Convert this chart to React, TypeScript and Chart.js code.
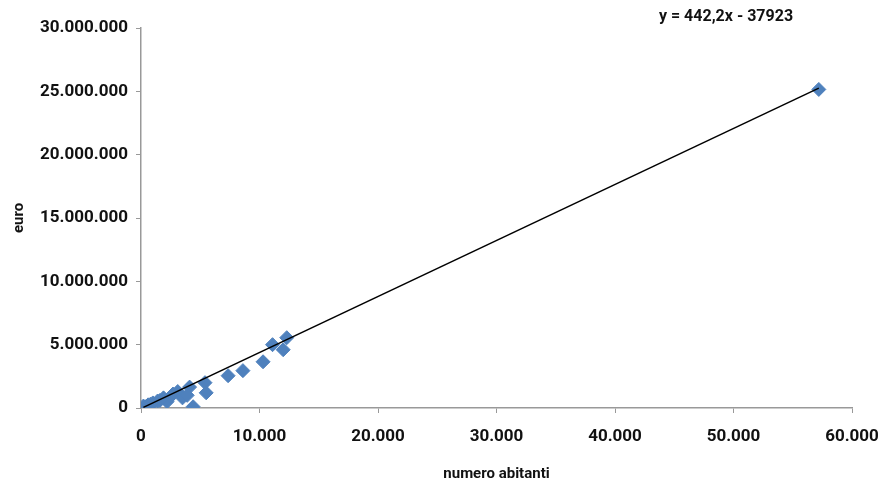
import React, { useEffect, useRef } from "react";
import { Chart, registerables } from "chart.js";

Chart.register(...registerables);

// inhabitants (x) vs. value (y)
const abitanti: number[] = [
  57200, 12300, 11100, 12000, 10300, 8600, 7350, 5400, 5500, 4400, 4100, 3100,
  3500, 2700, 1900, 2200, 1000, 1400, 350, 600, 200, 800, 1600, 2500, 3900,
];
const valori: number[] = [
  25150000, 5550000, 5000000, 4600000, 3650000, 2950000, 2550000, 2000000,
  1200000, 100000, 1650000, 1300000, 800000, 1100000, 800000, 500000, 400000,
  550000, 100000, 250000, 150000, 300000, 600000, 900000, 1000000,
];
const trendSlope = 442.2;
const trendIntercept = -37923;
const trendLabel = "y = 442,2x - 37923";
const xTitle = "numero abitanti";
const yTitle = "euro";

const FONT = "Roboto, 'Liberation Sans', sans-serif";

const fmt = (v: number) =>
  Math.round(v)
    .toString()
    .replace(/\B(?=(\d{3})+(?!\d))/g, ".");

export default function App() {
  const ref = useRef<HTMLCanvasElement | null>(null);
  useEffect(() => {
    document.body.style.margin = "0";
    const xs = abitanti;
    const xMin = Math.min(...xs);
    const xMax = Math.max(...xs);
    const trend = [xMin, xMax].map((x) => ({ x, y: trendSlope * x + trendIntercept }));
    const points = xs.map((x, i) => ({ x, y: valori[i] }));

    const labelPlugin = {
      id: "eqLabel",
      afterDraw(chart: any) {
        const ctx = chart.ctx;
        ctx.save();
        ctx.font = `bold 16px ${FONT}`;
        ctx.fillStyle = "#111";
        ctx.textAlign = "center";
        ctx.textBaseline = "middle";
        ctx.fillText(trendLabel, 726, 17);
        ctx.restore();
      },
    };

    const chart = new Chart(ref.current!, {
      type: "scatter",
      data: {
        datasets: [
          {
            type: "line",
            data: trend,
            borderColor: "#000",
            borderWidth: 1.5,
            pointRadius: 0,
            fill: false,
          } as any,
          {
            data: points,
            backgroundColor: "#4F81BD",
            borderColor: "#4F81BD",
            pointStyle: "rectRot",
            pointRadius: 7,
          },
        ],
      },
      options: {
        animation: false,
        responsive: false,
        layout: { padding: { top: 28, right: 0, left: 0, bottom: 0 } },
        plugins: { legend: { display: false }, tooltip: { enabled: false } },
        scales: {
          x: {
            type: "linear",
            min: 0,
            max: 60000,
            ticks: {
              stepSize: 10000,
              color: "#111",
              font: { family: FONT, size: 17, weight: "bold" },
              padding: 14,
              callback: (v: any) => fmt(Number(v)),
            },
            grid: { drawOnChartArea: false, drawTicks: true, tickLength: 5, color: "#999" },
            border: { color: "#999", width: 1.5 },
            title: {
              display: true,
              text: xTitle,
              color: "#111",
              font: { family: FONT, size: 15, weight: "bold" },
              padding: { top: 6 },
            },
            afterFit: (s: any) => {
              s.height = 79;
              s.paddingRight = 28;
              s.paddingLeft = 0;
            },
          },
          y: {
            type: "linear",
            min: 0,
            max: 30000000,
            ticks: {
              stepSize: 5000000,
              color: "#111",
              font: { family: FONT, size: 17, weight: "bold" },
              padding: 8,
              callback: (v: any) => fmt(Number(v)),
            },
            grid: { drawOnChartArea: false, drawTicks: true, tickLength: 5, color: "#999" },
            border: { color: "#999", width: 1.5 },
            title: {
              display: true,
              text: yTitle,
              color: "#111",
              font: { family: FONT, size: 15, weight: "bold" },
              padding: { bottom: 0, top: 10 },
            },
            afterFit: (s: any) => {
              s.width = 141;
            },
          },
        },
      },
      plugins: [labelPlugin],
    } as any);
    return () => chart.destroy();
  }, []);
  return <canvas ref={ref} width={880} height={487} style={{ display: "block" }} />;
}
